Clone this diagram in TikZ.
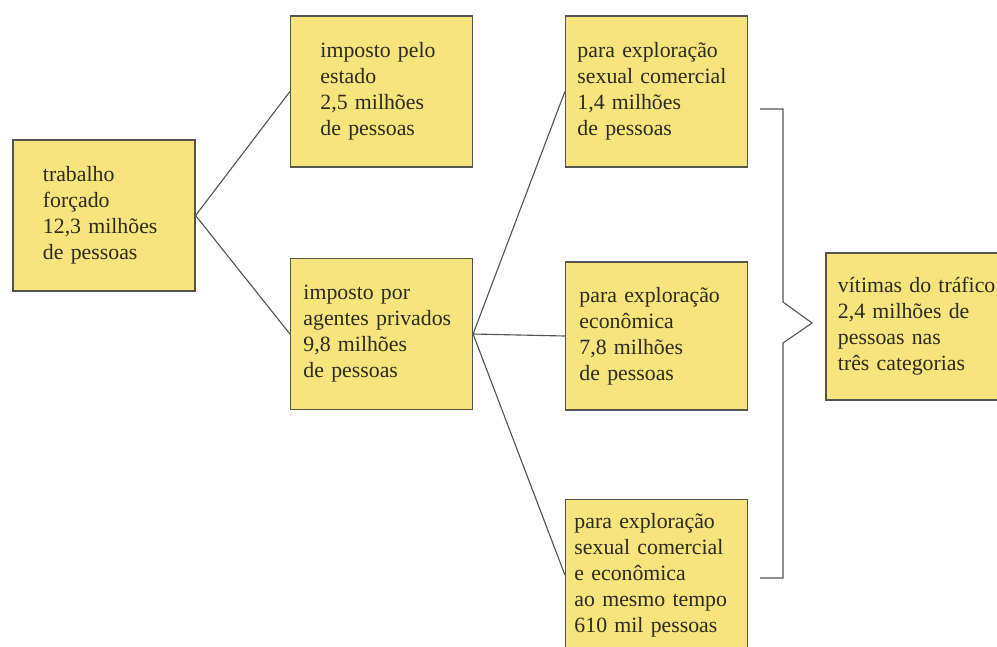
\documentclass[tikz,border=0pt]{standalone}
\usepackage{fontspec}
\setmainfont{Liberation Serif}
\usetikzlibrary{positioning}
\definecolor{amarelo}{RGB}{246,228,124}
\definecolor{contorno}{RGB}{85,85,80}
\definecolor{letra}{RGB}{45,42,30}
\tikzset{
    caixa/.style={%
        draw=contorno, fill=amarelo, line width=0.8pt,
        inner xsep=#1, text width={4.55cm-2*(#1)},
        minimum height=3.775cm,
        align=left, text=letra,
        font=\fontsize{15.5}{18.5}\selectfont
        },
    caixa/.default=0.3cm,
    ramo/.style={draw=contorno, line width=0.8pt}
}
\begin{document}
\begin{tikzpicture}[x=0.025cm, y=-0.025cm]

\useasboundingbox (0,0) rectangle (997,646);
\clip (0,0) rectangle (997,646);

\node[caixa=0.75cm] (Trab) at (104,215.5) {trabalho\\forçado\\12,3 milhões\\de pessoas};

\node[caixa=0.75cm] (Estado) at (381.5,91.5) {imposto pelo\\estado\\2,5 milhões\\de pessoas};

\node[caixa=0.325cm] (Priv) at (381.5,334) {imposto por\\agentes privados\\9,8 milhões\\de pessoas};

\node[caixa] (Sexual) at (656.5,91.5) {para exploração\\sexual comercial\\1,4 milhões\\de pessoas};

\node[caixa=0.35cm, minimum height=3.7cm] (Econ) at (656.5,336) {para exploração\\econômica\\7,8 milhões\\de pessoas};

\node[caixa=0.225cm] (Ambos) at (656.5,575) {para exploração\\sexual comercial\\e econômica\\ao mesmo tempo\\610 mil pessoas};

\node[caixa, minimum height=3.675cm, text width=4.15cm] (Trafico) at (921,326.5) {vítimas do tráfico\\2,4 milhões de\\pessoas nas\\três categorias};

\draw[ramo] (Trab.east) -- (Estado.west);
\draw[ramo] (Trab.east) -- (Priv.west);

\draw[ramo] (Priv.east) -- (Sexual.west);
\draw[ramo] (Priv.east) -- (Econ.west);
\draw[ramo] (Priv.east) -- (Ambos.west);

% chave
\draw[ramo] (760,109) -- (783,109) -- (783,302) -- (812,323) -- (783,343) -- (783,578) -- (760,578);

\end{tikzpicture}
\end{document}
